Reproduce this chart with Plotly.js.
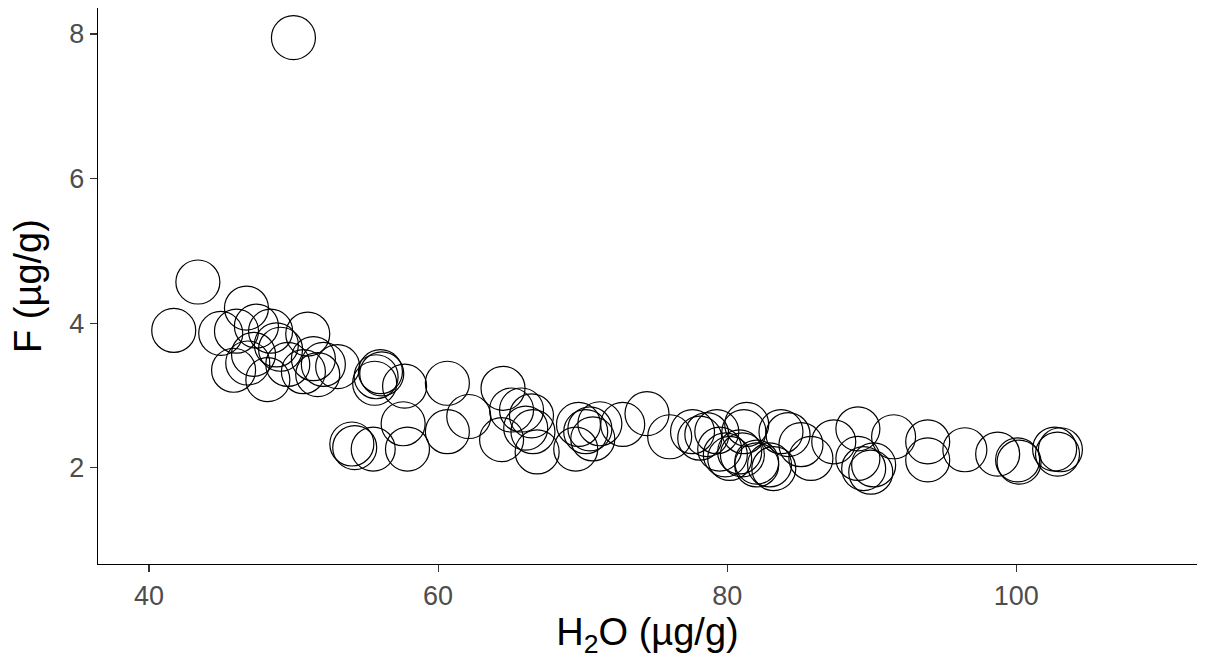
<!DOCTYPE html>
<html>
<head>
<meta charset="utf-8">
<script src="https://cdn.plot.ly/plotly-3.0.1.min.js"></script>
<style>html,body{margin:0;padding:0;background:#fff;}#chart{width:1225px;height:659px;}</style>
</head>
<body>
<div id="chart"></div>
<script>
var h2o = [41.71,43.38,46.74,44.96,46.05,47.43,47.23,45.85,49.10,48.22,48.81,48.41,50.98,51.37,50.68,52.06,53.05,51.67,49.60,46.83,49.99,
  56.01,55.71,55.61,56.10,57.68,60.64,64.49,57.58,62.12,60.64,54.03,54.23,55.51,57.88,64.39,65.08,65.77,66.46,66.56,66.85,66.06,
  69.52,69.71,70.50,71.19,70.70,70.21,72.77,74.45,76.02,77.60,78.10,79.28,81.35,79.87,80.86,82.04,83.22,83.72,
  81.15,78.59,79.48,80.17,81.05,82.04,82.93,84.21,85.10,85.79,87.37,89.04,89.04,89.44,90.13,89.93,91.51,93.87,93.87,
  96.44,98.71,100.09,100.19,103.05,102.85,102.65];
var fluor = [3.90,4.57,4.21,3.86,3.89,3.96,3.57,3.35,3.64,3.22,3.70,3.89,3.85,3.51,3.33,3.43,3.40,3.29,3.43,3.45,7.95,
  3.33,3.26,3.17,3.30,3.13,3.17,3.10,2.61,2.71,2.50,2.33,2.28,2.26,2.26,2.39,2.80,2.80,2.72,2.50,2.22,2.55,
  2.26,2.60,2.54,2.61,2.40,2.50,2.60,2.75,2.43,2.50,2.41,2.50,2.60,2.18,2.22,2.04,1.99,2.50,
  2.50,2.46,2.26,2.13,2.18,2.08,2.04,2.46,2.32,2.13,2.36,2.54,2.13,1.99,2.04,1.94,2.43,2.36,2.11,
  2.25,2.19,2.11,2.08,2.25,2.19,2.26];
var xTicks = [40,60,80,100];
var yTicks = [2,4,6,8];

var trace = {
  x: h2o, y: fluor, type: 'scatter', mode: 'markers',
  marker: {symbol: 'circle-open', size: 44, color: '#000000', line: {width: 1.2, color: '#000000'}},
  hoverinfo: 'x+y'
};
var fontFam = 'Liberation Sans, Arial, sans-serif';
var layout = {
  width: 1225, height: 659,
  margin: {l: 98, r: 28, t: 8, b: 95},
  paper_bgcolor: '#ffffff', plot_bgcolor: '#ffffff',
  showlegend: false,
  xaxis: {
    range: [36.47, 112.5], tickvals: xTicks, ticktext: xTicks.map(String),
    showgrid: false, zeroline: false, showline: true, linecolor: '#000000', linewidth: 1.3,
    ticks: 'outside', ticklen: 7, tickwidth: 1.1, tickcolor: '#333333',
    tickfont: {family: fontFam, size: 27, color: '#4d4d4d'},
    title: {text: 'H<sub>2</sub>O (µg/g)', font: {family: fontFam, size: 38, color: '#000000'}, standoff: 2}
  },
  yaxis: {
    range: [0.67, 8.36], tickvals: yTicks, ticktext: yTicks.map(String),
    showgrid: false, zeroline: false, showline: true, linecolor: '#000000', linewidth: 1.3,
    ticks: 'outside', ticklen: 7, tickwidth: 1.1, tickcolor: '#333333',
    tickfont: {family: fontFam, size: 27, color: '#4d4d4d'},
    title: {text: 'F (µg/g)', font: {family: fontFam, size: 38, color: '#000000'}, standoff: 16}
  }
};
Plotly.newPlot('chart', [trace], layout, {displayModeBar: false, staticPlot: true});
</script>
</body>
</html>
